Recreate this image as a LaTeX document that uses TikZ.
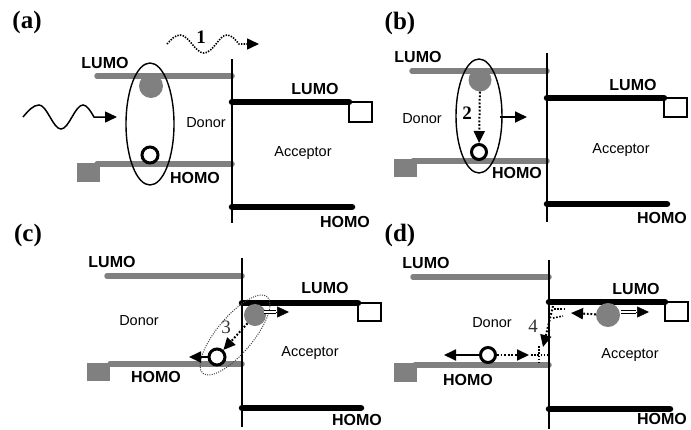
\documentclass[tikz,border=0pt]{standalone}
\usepackage{fontspec}
\setmainfont{Liberation Sans}
\newfontfamily\tagfont{Liberation Serif}
\usepackage{xcolor}
\usetikzlibrary{arrows.meta, positioning, shapes.geometric}
\definecolor{lvlgray}{RGB}{128,128,128}

\begin{document}
\begin{tikzpicture}[
    x=1pt, y=-1pt,
    every node/.style={inner sep=0pt},
    lvlname/.style={font=\bfseries\fontsize{16}{18}\selectfont},
    side/.style={font=\fontsize{14.5}{16}\selectfont},
    tag/.style={font=\tagfont\bfseries\fontsize{25}{28}\selectfont},
    stepno/.style={font=\tagfont\bfseries\fontsize{19}{20}\selectfont},
    stepthin/.style={font=\tagfont\fontsize{19}{20}\selectfont, text=black!80},
    iface/.style={line width=1.6pt},
    dlvl/.style={draw=lvlgray, line width=5.5pt, line cap=round},
    alvl/.style={draw=black, line width=6.5pt, line cap=round},
    asq/.style={draw=black, line width=2.8pt},
    elec/.style={circle, fill=lvlgray, minimum size=23pt},
    hole/.style={circle, draw=black, fill=white, line width=3pt, minimum size=15pt},
    exc/.style={ellipse, draw=black, line width=1.4pt},
    excdot/.style={ellipse, draw=black!75, line width=1pt, dash pattern=on 1pt off 1.3pt},
    arr/.style={-{Triangle[length=12pt, width=11pt]}, line width=1.8pt},
    dotarr/.style={arr, line width=2pt, dash pattern=on 1.8pt off 1.8pt},
    dblshaft/.style={draw=black, double=white, double distance=1.8pt, line width=1.2pt},
    tipit/.style={-{Triangle[length=12pt, width=11pt]}, line width=0.5pt},
    chg/.style={line width=1.6pt, dash pattern=on 1.6pt off 1.6pt},
]
\useasboundingbox (0,0) rectangle (691,429);

% (a)
\node[tag] (tagA) at (27,22) {(a)};
\draw[dlvl] (97,76) -- (232,76);
\draw[dlvl] (97,164) -- (232,164);
\fill[lvlgray] (77,163) rectangle (100,182);
\draw[alvl] (232,102) -- (349,102);
\draw[asq] (349,102) rectangle (372,122);
\draw[alvl] (232,207) -- (352,207);
\draw[iface] (232,59) -- (232,223);
\node[lvlname] (aLd) at (105,63) {LUMO};
\node[lvlname] (aHd) at (195,178) {HOMO};
\node[lvlname] (aLa) at (315,89) {LUMO};
\node[lvlname] (aHa) at (345,222) {HOMO};
\node[side] (aD) at (206,123) {Donor};
\node[side] (aA) at (303,153) {Acceptor};
\node[exc, minimum width=48pt, minimum height=122pt] (aX) at (150,124) {};
\node[elec, minimum size=24pt] (aE) at (151,86) {};
\node[hole, minimum size=16pt] (aH) at (150,155) {};
\coordinate (aW0) at (23,117);
\coordinate (aW1) at (117,117);
\draw[arr, line width=1.5pt] (aW0) sin ++(16,-12) cos ++(11,12) sin ++(11,12)
    cos ++(11,-12) sin ++(11,-12) cos ++(11,12) -- (aW1);
\coordinate (aP0) at (167,44);
\coordinate (aP1) at (259,44);
\draw[arr, line width=1.6pt, dash pattern=on 1.4pt off 1.3pt] (aP0) sin ++(13,-9) cos ++(12,9)
    sin ++(12,9) cos ++(12,-9) sin ++(11,-9) cos ++(12,9) -- (aP1);
\node[stepno] (aN) at (201,37) {1};

% (b)
\node[tag] (tagB) at (400,23) {(b)};
\draw[dlvl] (412,71) -- (547,71);
\draw[dlvl] (413,161) -- (547,161);
\fill[lvlgray] (394,159) rectangle (417,177);
\draw[alvl] (547,98) -- (664,98);
\draw[asq] (664,98) rectangle (687,117);
\draw[alvl] (547,204) -- (667,204);
\draw[iface] (547,53) -- (547,222);
\node[lvlname] (bLd) at (418,57) {LUMO};
\node[lvlname] (bHd) at (517,173) {HOMO};
\node[lvlname] (bLa) at (633,85) {LUMO};
\node[lvlname] (bHa) at (662,218) {HOMO};
\node[side] (bD) at (422,119) {Donor};
\node[side] (bA) at (621,150) {Acceptor};
\node[exc, minimum width=46pt, minimum height=114pt] (bX) at (479,116) {};
\node[elec] (bE) at (480,80) {};
\node[hole] (bH) at (479,152) {};
\draw[dotarr] (bE) -- (bH);
\coordinate (bS) at (500,117);
\coordinate (bT) at (527,117);
\draw[arr] (bS) -- (bT);
\node[stepno] (bN) at (467,113) {2};

% (c)
\node[tag] (tagC) at (28,235) {(c)};
\draw[dlvl] (107,276) -- (242,276);
\draw[dlvl] (110,364) -- (242,364);
\fill[lvlgray] (87,363) rectangle (110,381);
\draw[alvl] (242,303) -- (358,303);
\draw[asq] (358,303) rectangle (381,321);
\draw[alvl] (242,408) -- (361,408);
\draw[iface] (242,258) -- (242,427);
\node[lvlname] (cLd) at (112,262) {LUMO};
\node[lvlname] (cHd) at (156,377) {HOMO};
\node[lvlname] (cLa) at (325,288) {LUMO};
\node[lvlname] (cHa) at (357,420) {HOMO};
\node[side] (cD) at (139,321) {Donor};
\node[side] (cA) at (310,353) {Acceptor};
\node[excdot, rotate=50, minimum width=100pt, minimum height=36pt] (cX) at (235,335) {};
\node[elec, minimum size=22pt] (cE) at (255,315) {};
\node[hole, minimum size=16pt] (cH) at (217,357) {};
\coordinate (cS) at (264,312);
\coordinate (cM) at (276,312);
\coordinate (cT) at (289,312);
\draw[dblshaft] (cS) -- (cM);
\draw[tipit] (cM) -- (cT);
\draw[dotarr] (cE) -- (cH);
\coordinate (cL) at (189,357);
\draw[arr] (cH) -- (cL);
\node[stepthin] (cN) at (226,327) {3};

% (d)
\node[tag] (tagD) at (400,235) {(d)};
\draw[dlvl] (413,277) -- (549,277);
\draw[dlvl] (415,365) -- (549,365);
\fill[lvlgray] (394,363) rectangle (417,382);
\draw[alvl] (549,302) -- (665,302);
\draw[asq] (665,302) rectangle (688,321);
\draw[alvl] (549,409) -- (670,409);
\draw[iface] (549,260) -- (549,429);
\node[lvlname] (dLd) at (426,263) {LUMO};
\node[lvlname] (dHd) at (468,380) {HOMO};
\node[lvlname] (dLa) at (636,289) {LUMO};
\node[lvlname] (dHa) at (662,419) {HOMO};
\node[side] (dD) at (492,323) {Donor};
\node[side] (dA) at (630,355) {Acceptor};
\node[elec, minimum size=24pt] (dE) at (608,315) {};
\coordinate (dS) at (621,312);
\coordinate (dM) at (636,312);
\coordinate (dT) at (649,312);
\draw[dblshaft] (dS) -- (dM);
\draw[tipit] (dM) -- (dT);
\coordinate (dL) at (571,313);
\draw[dotarr] (dE) -- (dL);
\node[hole] (dH) at (488,355) {};
\coordinate (dW) at (444,355);
\coordinate (dP) at (529,355);
\draw[arr] (dH) -- (dW);
\draw[dotarr] (dH) -- (dP);
\draw[chg] (554,309) -- (566,309);
\draw[chg] (553,318) -- (563,316);
\coordinate (dQ0) at (553,306);
\coordinate (dQ1) at (543,347);
\draw[dotarr] (dQ0) -- (dQ1);
\draw[chg] (531,355) -- (548,355);
\draw[chg] (539,346) -- (539,363);
\node[stepthin] (dN) at (533,326) {4};

\end{tikzpicture}
\end{document}
